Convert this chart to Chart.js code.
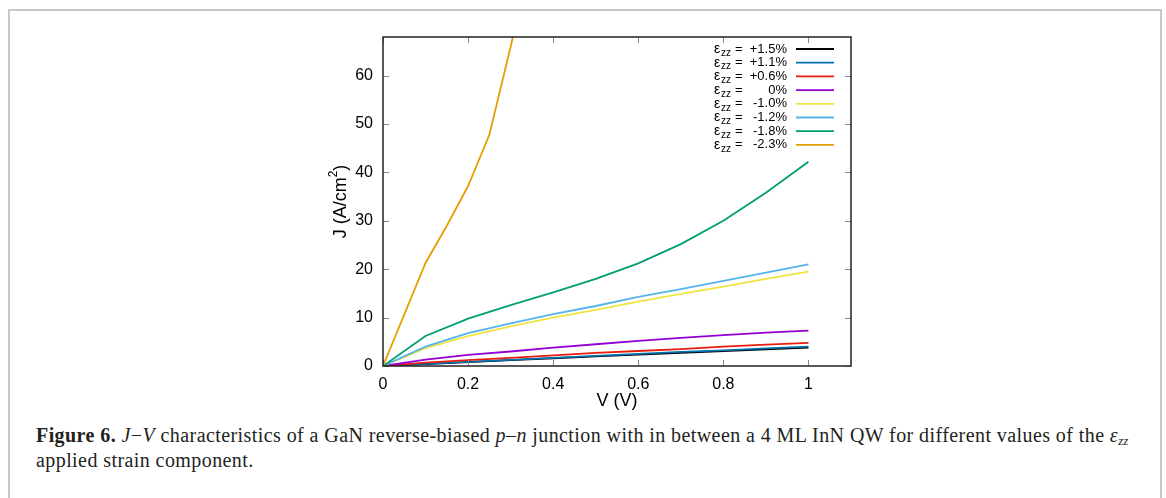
<!DOCTYPE html>
<html>
<head>
<meta charset="utf-8">
<script src="https://cdn.jsdelivr.net/npm/chart.js@4.4.1/dist/chart.umd.min.js"></script>
<style>
  html, body { margin: 0; padding: 0; background: #fff; }
  #frame {
    position: absolute; left: 8px; top: 9px; width: 1154px; height: 500px;
    border-left: 2px solid #c8c8c8; border-top: 2px solid #c8c8c8; border-right: 2px solid #c8c8c8;
    box-sizing: border-box;
  }
  #wrap { position: absolute; left: 0; top: 0; width: 1166px; height: 420px; }
  #caption {
    position: absolute; left: 36px; top: 423px; white-space: nowrap;
    font-family: "Liberation Serif", "DejaVu Serif", serif; font-size: 20px;
    letter-spacing: 0.42px; line-height: 25px; color: #231f20;
  }
  #caption sub { font-size: 13px; vertical-align: -3px; line-height: 0; letter-spacing: 0; }
</style>
</head>
<body>
<div id="frame"></div>
<div id="wrap"><canvas id="jv"></canvas></div>
<div id="caption">
  <b>Figure 6.</b> <i>J</i>−<i>V</i> characteristics of a GaN reverse-biased <i>p</i>–<i>n</i> junction with in between a 4 ML InN QW for different values of the <i>ε<sub>zz</sub></i><br>
  applied strain component.
</div>
<script>
// voltage grid (V)
const voltages = [0, 0.1, 0.2, 0.3, 0.4, 0.5, 0.6, 0.7, 0.8, 0.9, 1.0];
const voltagesSteep = [0, 0.1, 0.15, 0.2, 0.25, 0.3, 0.35];

// current density J (A/cm^2)
const strainLabels = ['+1.5%', '+1.1%', '+0.6%', '0%', '-1.0%', '-1.2%', '-1.8%', '-2.3%'];
const jP15 = [0, 0.4, 0.8, 1.2, 1.6, 2.0, 2.35, 2.7, 3.1, 3.45, 3.8];
const jP11 = [0, 0.45, 0.85, 1.25, 1.7, 2.1, 2.5, 2.9, 3.25, 3.65, 4.0];
const jP06 = [0, 0.7, 1.2, 1.7, 2.2, 2.7, 3.1, 3.5, 4.0, 4.4, 4.8];
const j0 = [0, 1.3, 2.3, 3.0, 3.8, 4.5, 5.2, 5.8, 6.4, 6.9, 7.3];
const jM10 = [0, 3.7, 6.2, 8.2, 10.0, 11.6, 13.3, 14.9, 16.4, 18.0, 19.5];
const jM12 = [0, 4.0, 6.8, 8.8, 10.7, 12.4, 14.3, 15.9, 17.6, 19.3, 21.0];
const jM18 = [0, 6.2, 9.8, 12.6, 15.2, 18.0, 21.2, 25.2, 30.0, 35.8, 42.2];
const jM23 = [0, 21.3, 29.0, 37.2, 47.8, 66.0, 85.0];

const colors = ['#000000', '#0072b2', '#e51e10', '#9400d3', '#f0e442', '#56b4e9', '#009e73', '#e69f00'];
const xTicks = [0, 0.2, 0.4, 0.6, 0.8, 1.0];
const yTicks = [0, 10, 20, 30, 40, 50, 60];

const series = [jP15, jP11, jP06, j0, jM10, jM12, jM18, jM23];

function toPoints(xs, ys) {
    return ys.map((y, i) => ({ x: xs[i], y: y }));
}

const datasets = series.map((ys, i) => ({
    label: strainLabels[i],
    data: toPoints(ys === jM23 ? voltagesSteep : voltages, ys),
    borderColor: colors[i],
    borderWidth: 1.8,
    pointRadius: 0,
    tension: 0,
    fill: false,
    order: series.length - i // later series drawn on top, like gnuplot
}));

const sans = '"Liberation Sans", Arial, sans-serif';

const gnuplotBits = {
    id: 'gnuplotBits',
    afterDatasetsDraw(chart) {
        const { ctx, chartArea: a, scales } = chart;
        ctx.save();

        // inward ticks on all four sides
        ctx.strokeStyle = '#888';
        ctx.lineWidth = 1;
        ctx.beginPath();
        xTicks.forEach(v => {
            const px = Math.round(scales.x.getPixelForValue(v)) + 0.5;
            ctx.moveTo(px, a.bottom); ctx.lineTo(px, a.bottom - 6);
            ctx.moveTo(px, a.top); ctx.lineTo(px, a.top + 6);
        });
        yTicks.forEach(v => {
            const py = Math.round(scales.y.getPixelForValue(v)) + 0.5;
            ctx.moveTo(a.left, py); ctx.lineTo(a.left + 6, py);
            ctx.moveTo(a.right, py); ctx.lineTo(a.right - 6, py);
        });
        ctx.stroke();

        // frame
        ctx.strokeStyle = '#222';
        ctx.lineWidth = 1.5;
        ctx.strokeRect(a.left, a.top, a.right - a.left, a.bottom - a.top);

        // axis titles
        ctx.fillStyle = '#000';
        ctx.font = '18px ' + sans;
        ctx.textAlign = 'center';
        ctx.textBaseline = 'middle';
        ctx.fillText('V (V)', (a.left + a.right) / 2, 401);

        ctx.save();
        ctx.translate(341, (a.top + a.bottom) / 2);
        ctx.rotate(-Math.PI / 2);
        const main = 'J (A/cm';
        const tail = ')';
        ctx.font = '18px ' + sans;
        const wMain = ctx.measureText(main).width;
        const wTail = ctx.measureText(tail).width;
        ctx.font = '12px ' + sans;
        const wSup = ctx.measureText('2').width;
        let x0 = -(wMain + wSup + wTail) / 2;
        ctx.textAlign = 'left';
        ctx.font = '18px ' + sans;
        ctx.fillText(main, x0, 0);
        ctx.font = '12px ' + sans;
        ctx.fillText('2', x0 + wMain, -7);
        ctx.font = '18px ' + sans;
        ctx.fillText(tail, x0 + wMain + wSup, 0);
        ctx.restore();

        // key, top right inside the plot
        chart.data.datasets.forEach((ds, i) => {
            const y = 49 + i * 13.7;
            ctx.textBaseline = 'middle';
            ctx.fillStyle = '#000';
            ctx.font = '14px ' + sans;
            ctx.textAlign = 'left';
            ctx.fillText('ε', 714, y);
            ctx.font = '10px ' + sans;
            ctx.fillText('zz', 721, y + 4);
            ctx.font = '13px ' + sans;
            ctx.fillText('=', 735, y);
            ctx.textAlign = 'right';
            ctx.fillText(ds.label, 787, y);
            ctx.strokeStyle = ds.borderColor;
            ctx.lineWidth = 1.8;
            ctx.beginPath();
            ctx.moveTo(796, y);
            ctx.lineTo(834, y);
            ctx.stroke();
        });

        ctx.restore();
    }
};

new Chart(document.getElementById('jv'), {
    type: 'line',
    data: { datasets },
    options: {
        responsive: true,
        maintainAspectRatio: false,
        animation: false,
        layout: { padding: { left: 323, top: 37, right: 315, bottom: 0 } },
        plugins: { legend: { display: false }, tooltip: { enabled: false } },
        scales: {
            x: {
                type: 'linear',
                min: 0,
                max: 1.1,
                afterFit: s => { s.height = 54; },
                afterBuildTicks: s => { s.ticks = xTicks.map(v => ({ value: v })); },
                grid: { display: false, drawTicks: false },
                border: { display: false },
                ticks: {
                    padding: 9,
                    color: '#000',
                    font: { family: sans, size: 16 },
                    callback: v => String(Math.round(v * 10) / 10)
                }
            },
            y: {
                min: 0,
                max: 68,
                afterFit: s => { s.width = 60; },
                afterBuildTicks: s => { s.ticks = yTicks.map(v => ({ value: v })); },
                grid: { display: false, drawTicks: false },
                border: { display: false },
                ticks: {
                    padding: 10,
                    color: '#000',
                    font: { family: sans, size: 16 }
                }
            }
        }
    },
    plugins: [gnuplotBits]
});
</script>
</body>
</html>
